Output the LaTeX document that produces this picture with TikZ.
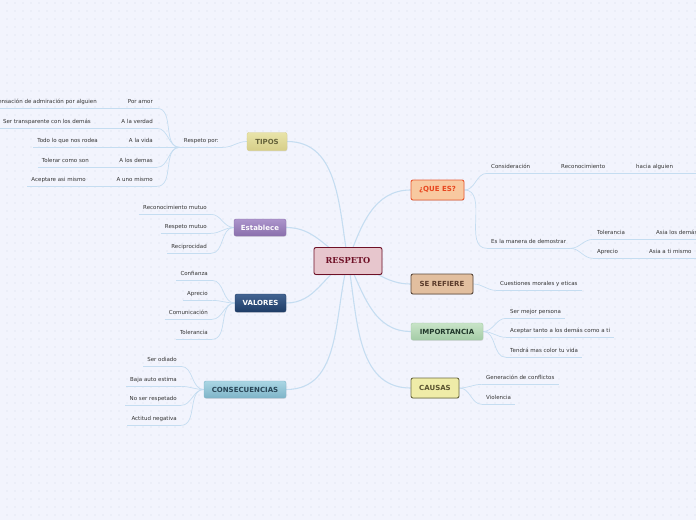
\documentclass[tikz,border=0pt]{standalone}
\usepackage{fontspec}
\setmainfont{DejaVu Sans}
\newfontfamily\serifhead{DejaVu Serif}
\usetikzlibrary{shadows}
\definecolor{paperbg}{RGB}{242,244,253}
\definecolor{paperdot}{RGB}{214,219,234}
\definecolor{linkblue}{RGB}{197,221,241}
\definecolor{leafgray}{RGB}{51,51,51}
\definecolor{rosefill}{RGB}{231,198,205}
\definecolor{rosedark}{RGB}{110,16,38}
\definecolor{khakitop}{RGB}{233,228,170}
\definecolor{khakibot}{RGB}{214,206,136}
\definecolor{khakitext}{RGB}{102,99,58}
\definecolor{lilactop}{RGB}{172,148,204}
\definecolor{lilacbot}{RGB}{138,112,172}
\definecolor{navytop}{RGB}{66,99,145}
\definecolor{navybot}{RGB}{30,60,102}
\definecolor{teatop}{RGB}{170,214,228}
\definecolor{teabot}{RGB}{126,180,200}
\definecolor{teatext}{RGB}{40,69,86}
\definecolor{peachfill}{RGB}{248,201,160}
\definecolor{peachedge}{RGB}{234,91,52}
\definecolor{peachtext}{RGB}{232,70,30}
\definecolor{tanfill}{RGB}{226,191,159}
\definecolor{tanedge}{RGB}{92,74,60}
\definecolor{tantext}{RGB}{90,59,43}
\definecolor{mosstop}{RGB}{200,228,200}
\definecolor{mossbot}{RGB}{164,204,166}
\definecolor{mosstext}{RGB}{32,56,42}
\definecolor{strawfill}{RGB}{239,236,168}
\definecolor{strawedge}{RGB}{107,106,64}
\definecolor{strawtext}{RGB}{90,83,48}
\pgfdeclarelayer{paper}
\pgfdeclarelayer{wires}
\pgfsetlayers{paper,wires,main}
\tikzset{
  topic/.style={rounded corners=2pt, inner sep=1pt,
    font=\fontsize{7}{8}\selectfont\bfseries,
    drop shadow={opacity=0.2,shadow xshift=0.4pt,shadow yshift=-0.8pt}},
  leaf/.style={text=leafgray, font=\fontsize{5.5}{6}\selectfont,
    inner xsep=4pt, inner ysep=3.5pt, text height=4pt, text depth=1.3pt},
  leafl/.style={leaf, anchor=east},
  leafr/.style={leaf, anchor=west},
  twig/.style={draw=linkblue, line width=0.7pt},
  bough/.style={draw=linkblue, line width=1.1pt},
}

\begin{document}
\begin{tikzpicture}[x=1pt,y=1pt]
  \useasboundingbox (0,0) rectangle (696,-520);
  \clip (0,0) rectangle (696,-520);
  \begin{pgfonlayer}{paper}
    \fill[paperbg] (0,0) rectangle (696,-520);
    \foreach \i in {0,...,86}
      \foreach \j in {0,...,64}
        \fill[paperdot] (8*\i+7,-8*\j-3) circle (0.55pt);
  \end{pgfonlayer}

  % centre and main topics
  \node[draw=rosedark, fill=rosefill, text=rosedark, rounded corners=2pt,
        line width=0.9pt, minimum width=68pt, minimum height=27pt,
        font=\serifhead\fontsize{8.2}{9}\selectfont\bfseries,
        drop shadow={opacity=0.2,shadow xshift=0.4pt,shadow yshift=-0.8pt}]
    (R) at (348,-261) {RESPETO};
  \node[topic, top color=khakitop, bottom color=khakibot, draw=khakibot,
        text=khakitext, minimum width=40pt, minimum height=18pt]
    (T) at (267,-141.5) {TIPOS};
  \node[topic, top color=lilactop, bottom color=lilacbot, draw=lilacbot,
        text=white, minimum width=52pt, minimum height=17pt]
    (E) at (260,-227.5) {Establece};
  \node[topic, top color=navytop, bottom color=navybot, draw=navybot,
        text=white, minimum width=51pt, minimum height=18pt]
    (V) at (260.5,-303) {VALORES};
  \node[topic, top color=teatop, bottom color=teabot, draw=teabot,
        text=teatext, minimum width=82pt, minimum height=17pt]
    (C) at (245,-389.5) {CONSECUENCIAS};
  \node[topic, fill=peachfill, draw=peachedge, line width=0.9pt,
        text=peachtext, minimum width=53pt, minimum height=20pt]
    (Q) at (437.5,-190) {¿QUE ES?};
  \node[topic, fill=tanfill, draw=tanedge, line width=0.9pt,
        text=tantext, minimum width=62pt, minimum height=20pt]
    (S) at (442,-284) {SE REFIERE};
  \node[topic, top color=mosstop, bottom color=mossbot, draw=mossbot,
        text=mosstext, minimum width=72pt, minimum height=17pt]
    (I) at (447,-331.5) {IMPORTANCIA};
  \node[topic, fill=strawfill, draw=strawedge, line width=0.9pt,
        text=strawtext, minimum width=48pt, minimum height=20pt]
    (K) at (435,-388) {CAUSAS};

  % left leaves
  \node[leafl] (rp) at (223,-141) {Respeto por:};
  \node[leafl] (pa) at (157,-102) {Por amor};
  \node[leafl] (pa2) at (101,-102) {Sensación de admiración por alguien};
  \node[leafl] (pv) at (157,-122) {A la verdad};
  \node[leafl] (pv2) at (95,-122) {Ser transparente con los demás};
  \node[leafl] (pvi) at (157,-141) {A la vida};
  \node[leafl] (pvi2) at (102,-141) {Todo lo que nos rodea};
  \node[leafl] (pd) at (157,-161) {A los demas};
  \node[leafl] (pd2) at (93,-161) {Tolerar como son};
  \node[leafl] (pu) at (157,-180) {A uno mismo};
  \node[leafl] (pu2) at (90,-180) {Aceptare asi mismo};
  \node[leafl] (e1) at (211,-208) {Reconocimiento mutuo};
  \node[leafl] (e2) at (211,-227) {Respeto mutuo};
  \node[leafl] (e3) at (211,-247) {Reciprocidad};
  \node[leafl] (v1) at (212,-274) {Confianza};
  \node[leafl] (v2) at (212,-294) {Aprecio};
  \node[leafl] (v3) at (212,-313) {Comunicación};
  \node[leafl] (v4) at (212,-333) {Tolerancia};
  \node[leafl] (c1) at (181,-360) {Ser odiado};
  \node[leafl] (c2) at (181,-380) {Baja auto estima};
  \node[leafl] (c3) at (181,-399) {No ser respetado};
  \node[leafl] (c4) at (181,-419) {Actitud negativa};

  % right leaves
  \node[leafr] (q1) at (487,-167) {Consideración};
  \node[leafr] (q2) at (557,-167) {Reconocimiento};
  \node[leafr, text width=70pt, align=left] (q3) at (632,-167) {hacia alguien};
  \node[leafr] (q4) at (487,-242) {Es la manera de demostrar};
  \node[leafr] (q5) at (593,-233) {Tolerancia};
  \node[leafr] (q6) at (652,-233) {Asia los demás};
  \node[leafr] (q7) at (593,-252) {Aprecio};
  \node[leafr] (q8) at (645,-252) {Asia a ti mismo};
  \node[leafr] (s1) at (496,-284) {Cuestiones morales y eticas};
  \node[leafr] (i1) at (506,-312) {Ser mejor persona};
  \node[leafr] (i2) at (506,-331) {Aceptar tanto a los demás como a ti};
  \node[leafr] (i3) at (506,-351) {Tendrá mas color tu vida};
  \node[leafr] (k1) at (482,-378) {Generación de conflictos};
  \node[leafr] (k2) at (482,-398) {Violencia};

  \begin{pgfonlayer}{wires}
    \draw[bough] (R.center) to[out=100,in=0] (T.east);
    \draw[bough] (R.center) to[out=150,in=0] (E.east);
    \draw[bough] (R.center) to[out=210,in=0] (V.east);
    \draw[bough] (R.center) to[out=255,in=0] (C.east);
    \draw[bough] (R.center) to[out=70,in=180] (Q.west);
    \draw[bough] (R.center) to[out=-15,in=180] (S.west);
    \draw[bough] (R.center) to[out=-65,in=180] (I.west);
    \draw[bough] (R.center) to[out=-80,in=180] (K.west);

    \foreach \n in {rp,pa,pa2,pv,pv2,pvi,pvi2,pd,pd2,pu,pu2,e1,e2,e3,
                    v1,v2,v3,v4,c1,c2,c3,c4,q1,q2,q3,q4,q5,q6,q7,q8,
                    s1,i1,i2,i3,k1,k2}
      \draw[twig] (\n.south west) -- (\n.south east);

    \draw[twig] (T.west) to[out=180,in=0] (rp.south east);
    \foreach \n in {pa,pv,pvi,pd,pu}
      \draw[twig] (rp.south west) to[out=180,in=0] (\n.south east);
    \foreach \a/\b in {pa/pa2,pv/pv2,pvi/pvi2,pd/pd2,pu/pu2}
      \draw[twig] (\a.south west) -- (\b.south east);
    \foreach \n in {e1,e2,e3}
      \draw[twig] (E.west) to[out=180,in=0] (\n.south east);
    \foreach \n in {v1,v2,v3,v4}
      \draw[twig] (V.west) to[out=180,in=0] (\n.south east);
    \foreach \n in {c1,c2,c3,c4}
      \draw[twig] (C.west) to[out=180,in=0] (\n.south east);

    \foreach \n in {q1,q4}
      \draw[twig] (Q.east) to[out=0,in=180] (\n.south west);
    \draw[twig] (q1.south east) -- (q2.south west);
    \draw[twig] (q2.south east) -- (q3.south west);
    \foreach \n in {q5,q7}
      \draw[twig] (q4.south east) to[out=0,in=180] (\n.south west);
    \draw[twig] (q5.south east) -- (q6.south west);
    \draw[twig] (q7.south east) -- (q8.south west);
    \draw[twig] (S.east) to[out=0,in=180] (s1.south west);
    \foreach \n in {i1,i2,i3}
      \draw[twig] (I.east) to[out=0,in=180] (\n.south west);
    \foreach \n in {k1,k2}
      \draw[twig] (K.east) to[out=0,in=180] (\n.south west);
  \end{pgfonlayer}
\end{tikzpicture}
\end{document}
